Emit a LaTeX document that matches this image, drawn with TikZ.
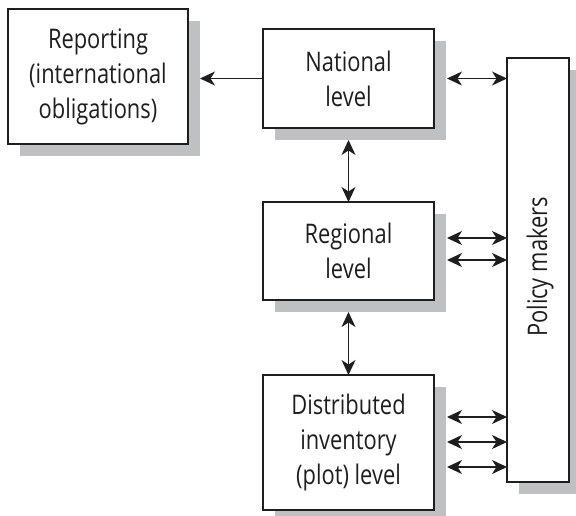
\documentclass[tikz,border=0pt]{standalone}
\usepackage{fontspec}
\setmainfont{Open Sans}[FakeStretch=0.81]
\usetikzlibrary{arrows.meta,shadows,calc}
\definecolor{shadowgray}{HTML}{BEC0C1}
\definecolor{ink}{HTML}{1E1E1E}
\tikzset{
  box/.style={draw=ink, line width=1.5pt, fill=white, inner sep=0pt, outer sep=0pt,
    align=center, font=\fontsize{27}{35}\selectfont, text=ink,
    drop shadow={shadow xshift=11.5pt, shadow yshift=-11.5pt, fill=shadowgray, opacity=1}},
  tip/.style={},
  conn/.style={draw=ink, line width=1.5pt, -{Stealth[length=15pt,width=14pt,inset=4.5pt]}},
  dbl/.style={draw=ink, line width=1.5pt, {Stealth[length=15pt,width=14pt,inset=4.5pt]}-{Stealth[length=15pt,width=14pt,inset=4.5pt]}}
}
\begin{document}
\begin{tikzpicture}[x=1pt,y=-1pt]
\useasboundingbox[fill=white] (0,0) rectangle (576,515);
\node[box, minimum width=180pt, minimum height=135pt] (rep) at (98,76.5) {Reporting\\(international\\obligations)};
\node[box, minimum width=171pt, minimum height=99pt] (nat) at (348.5,78.5) {National\\level};
\node[box, minimum width=171pt, minimum height=98pt] (reg) at (348.5,251) {Regional\\level};
\node[box, minimum width=171pt, minimum height=135pt] (dist) at (348.5,442.5) {Distributed\\inventory\\(plot) level};
\node[box, minimum width=62pt, minimum height=424pt] (pol) at (538,270) {};
\node[font=\fontsize{27}{35}\selectfont, text=ink, rotate=90] (poltext) at (540,267) {Policy makers};
% connectors
\draw[conn, shorten >=12pt] (nat.west) -- (rep.east |- nat.west);
\draw[dbl, shorten <=13pt] (nat.east) -- (nat.east -| pol.west);
\draw[dbl, shorten <=12pt] (nat.south) -- (reg.north);
\draw[dbl, shorten <=12pt] (reg.south) -- (dist.north);
\coordinate (r1) at ($(reg.east)+(13,-13)$);
\coordinate (r2) at ($(reg.east)+(13,9)$);
\coordinate (d1) at ($(dist.east)+(13,-25.5)$);
\coordinate (d2) at ($(dist.east)+(13,-0.5)$);
\coordinate (d3) at ($(dist.east)+(13,24.5)$);
\foreach \c in {r1,r2,d1,d2,d3}{
  \draw[dbl] (\c) -- (\c -| pol.west);
}
\end{tikzpicture}
\end{document}
